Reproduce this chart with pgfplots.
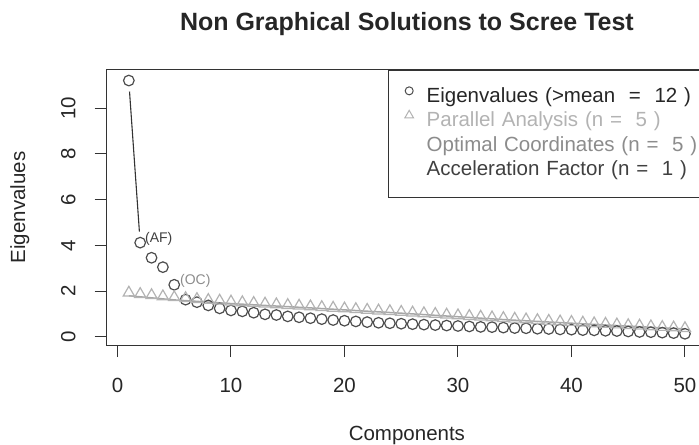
\documentclass[border=0pt]{standalone}
\usepackage{fontspec}
\setmainfont{Liberation Sans}
\usepackage{pgfplots}
\pgfplotsset{compat=1.18}
\usepackage{pgfplotstable}

\definecolor{evcol}{HTML}{4D4D4D}
\definecolor{pacol}{HTML}{B3B3B3}
\definecolor{occol}{HTML}{A6A6A6}
\definecolor{octext}{HTML}{8C8C8C}
\definecolor{aftext}{HTML}{404040}
\definecolor{axcol}{HTML}{333333}

\newcommand\fs{\fontsize{20.5bp}{24bp}\selectfont}

\pgfplotstableread{
x y
1 11.20
2 4.12
3 3.46
4 3.05
5 2.28
6 1.63
7 1.52
8 1.38
9 1.25
10 1.16
11 1.12
12 1.06
13 0.99
14 0.96
15 0.90
16 0.86
17 0.82
18 0.78
19 0.74
20 0.71
21 0.68
22 0.65
23 0.62
24 0.60
25 0.58
26 0.56
27 0.54
28 0.52
29 0.50
30 0.48
31 0.46
32 0.44
33 0.43
34 0.41
35 0.39
36 0.38
37 0.36
38 0.35
39 0.33
40 0.32
41 0.30
42 0.29
43 0.27
44 0.26
45 0.24
46 0.22
47 0.21
48 0.19
49 0.17
50 0.14
}\evtable

\pgfplotstableread{
x y
1 1.93
2 1.87
3 1.82
4 1.77
5 1.73
6 1.69
7 1.65
8 1.61
9 1.58
10 1.54
11 1.51
12 1.48
13 1.45
14 1.42
15 1.39
16 1.36
17 1.33
18 1.30
19 1.27
20 1.24
21 1.21
22 1.18
23 1.15
24 1.12
25 1.09
26 1.06
27 1.03
28 1.00
29 0.97
30 0.94
31 0.91
32 0.88
33 0.85
34 0.82
35 0.79
36 0.76
37 0.73
38 0.70
39 0.67
40 0.65
41 0.62
42 0.59
43 0.57
44 0.54
45 0.51
46 0.49
47 0.46
48 0.43
49 0.41
50 0.38
}\patable

\pgfplotstableread{
x y
1 1.80
5 1.62
10 1.46
17 1.27
25 1.04
34 0.76
42 0.55
50 0.35
}\octable

\begin{document}
\begin{tikzpicture}
\begin{axis}[
  scale only axis, width=600.6bp, height=275bp,
  xmin=-0.96, xmax=51.96, ymin=-0.35, ymax=11.66,
  axis line style={axcol, line width=1bp},
  xtick={0,10,...,50}, ytick={0,2,...,10},
  xtick pos=bottom, ytick pos=left,
  tick align=outside, major tick length=12bp,
  tick style={axcol, line width=1bp},
  /pgf/number format/assume math mode=true,
  ticklabel style={font=\fs, text=black!85},
  xticklabel style={anchor=base},
  xticklabel shift=35bp,
  yticklabel style={rotate=90, anchor=base},
  yticklabel shift=19.3bp,
  title={\bfseries Non Graphical Solutions to Scree Test},
  every axis title/.style={at={(axis description cs:0.5,1.145)}, anchor=base, font=\fontsize{25bp}{30bp}\selectfont, text=black!85},
  xlabel={Components},
  every axis x label/.style={at={(axis description cs:0.5,-0.3455)}, anchor=base, font=\fs, text=black!85},
  ylabel={Eigenvalues},
  every axis y label/.style={at={(axis description cs:-0.1355,0.5)}, rotate=90, anchor=base, font=\fs, text=black!85},
  legend style={at={(axis description cs:1,1)}, anchor=north east, draw=axcol, line width=1bp,
    inner xsep=0pt, inner ysep=14.7bp, row sep=0.2bp, column sep=0pt,
    nodes={inner sep=0pt, text height=17bp, text depth=7.3bp, text width=280bp, align=left, font=\fs}},
  legend cell align=left,
  legend image code/.code={\path (0bp,0bp) (37bp,0bp); \draw[#1] plot coordinates {(20bp,6.5bp)};},
]
\addplot[only marks, mark=o, mark size=5.3bp, evcol, line width=1.2bp, forget plot] table[x=x,y=y] {\evtable};
\addplot[only marks, mark=triangle, mark size=6.5bp, pacol, line width=1.2bp, forget plot] table[x=x,y=y] {\patable};
\addplot[occol, line width=1.5bp, forget plot] table[x=x,y=y] {\octable};
\addplot[black!80, line width=1.1bp, forget plot] coordinates {(1.06,10.72) (1.93,4.6)};

\addlegendimage{only marks, mark=o, mark size=4bp, evcol, line width=1bp}
\addlegendentry{\textcolor{black!85}{Eigenvalues (>mean~ =~ 12 )}}
\addlegendimage{only marks, mark=triangle, mark size=5bp, pacol, line width=1bp}
\addlegendentry{\textcolor{pacol}{Parallel Analysis (n =~ 5 )}}
\addlegendimage{legend image code/.code={\path (0bp,0bp) (37bp,0bp);}}
\addlegendentry{\textcolor{octext}{Optimal Coordinates (n =~ 5 )}}
\addlegendimage{legend image code/.code={\path (0bp,0bp) (37bp,0bp);}}
\addlegendentry{\textcolor{aftext}{Acceleration Factor (n =~ 1 )}}

\node[anchor=west, inner sep=0pt, font=\fontsize{14bp}{16bp}\selectfont, text=aftext] at (axis cs:2.42,4.28) {(AF)};
\node[anchor=west, inner sep=0pt, font=\fontsize{14bp}{16bp}\selectfont, text=octext] at (axis cs:5.5,2.45) {(OC)};
\end{axis}
\pgfresetboundingbox
\path[use as bounding box] (-106.6bp,-100bp) rectangle (592.4bp,345bp);
\end{tikzpicture}
\end{document}
